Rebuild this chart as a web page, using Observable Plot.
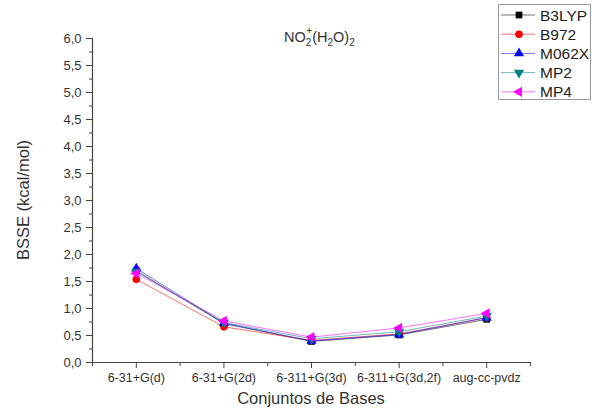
<!DOCTYPE html>
<html>
<head>
<meta charset="utf-8">
<script src="https://cdn.jsdelivr.net/npm/d3@7"></script>
<script src="https://cdn.jsdelivr.net/npm/@observablehq/plot@0.6"></script>
<style>
  html, body { margin: 0; padding: 0; background: #fff; }
  #chart svg { display: block; font-family: "Liberation Sans", Arial, sans-serif; }
</style>
</head>
<body>
<div id="chart"></div>
<script>
// Basis sets along the x axis
const basisSets = ["6-31+G(d)", "6-31+G(2d)", "6-311+G(3d)", "6-311+G(3d,2f)", "aug-cc-pvdz"];
// Methods (series)
const methods = ["B3LYP", "B972", "M062X", "MP2", "MP4"];
const colors = ["#000000", "#ff0000", "#0000ff", "#007f7f", "#ff00ff"];
// BSSE values (kcal/mol) per method, in basis-set order
const b3lyp = [1.70, 0.72, 0.39, 0.51, 0.80];
const b972  = [1.54, 0.66, 0.41, 0.53, 0.83];
const m062x = [1.74, 0.73, 0.40, 0.52, 0.83];
const mp2   = [1.68, 0.74, 0.44, 0.57, 0.86];
const mp4   = [1.65, 0.77, 0.47, 0.64, 0.91];
const yMajorTicks = [0, 0.5, 1, 1.5, 2, 2.5, 3, 3.5, 4, 4.5, 5, 5.5, 6];

const seriesValues = [b3lyp, b972, m062x, mp2, mp4];
const symbols = ["square", "circle", "triangle", "triangle", "triangle"];
const rotations = [0, 0, 0, 180, -90];

const rows = [];
methods.forEach((m, i) => {
  seriesValues[i].forEach((v, j) => rows.push({method: m, idx: j, value: v}));
});

const fmt = d => d3.format(".1f")(d).replace(".", ",");
const yMinor = d3.range(0, 6.001, 0.25);
const xMinor = d3.range(-0.5, basisSets.length, 1);

const marks = [
  Plot.axisY(yMinor, {tickSize: 3, tickFormat: () => "", stroke: "#444", label: null}),
  Plot.axisY(yMajorTicks, {tickSize: 6, tickPadding: 5, tickFormat: fmt, fontSize: 13, stroke: "#444", fill: "#333", label: null}),
  Plot.axisX(xMinor, {tickSize: 4, tickFormat: () => "", stroke: "#444", label: null}),
  Plot.axisX(d3.range(basisSets.length), {tickSize: 6, tickPadding: 5, tickFormat: i => basisSets[i], fontSize: 12.5, stroke: "#444", fill: "#333", label: null}),
  Plot.ruleX([-0.5], {stroke: "#444", strokeWidth: 1.2}),
  Plot.ruleY([0], {stroke: "#444", strokeWidth: 1.2})
];
methods.forEach((m, i) => {
  const data = rows.filter(d => d.method === m);
  marks.push(Plot.line(data, {x: "idx", y: "value", stroke: colors[i], strokeWidth: 0.8, strokeOpacity: 0.7}));
});
methods.forEach((m, i) => {
  const data = rows.filter(d => d.method === m);
  marks.push(Plot.dot(data, {x: "idx", y: "value", fill: colors[i], stroke: "none", symbol: symbols[i], rotate: rotations[i], r: 3.8}));
});

const chart = Plot.plot({
  width: 592,
  height: 410,
  marginLeft: 92,
  marginRight: 62,
  marginTop: 38,
  marginBottom: 48,
  x: {type: "linear", domain: [-0.5, basisSets.length - 0.5], axis: null, label: null},
  y: {domain: [0, 6], axis: null, label: null},
  style: {fontFamily: "Liberation Sans, Arial, sans-serif", background: "#fff"},
  marks
});

const svg = d3.select(chart);

// Axis titles
svg.append("text")
  .attr("transform", "translate(23,200) rotate(-90)")
  .attr("text-anchor", "middle").attr("dominant-baseline", "central")
  .attr("font-size", 16.5).attr("fill", "#333")
  .text("BSSE (kcal/mol)");
svg.append("text")
  .attr("x", 311).attr("y", 398)
  .attr("text-anchor", "middle").attr("dominant-baseline", "central")
  .attr("font-size", 16.5).attr("fill", "#333")
  .text("Conjuntos de Bases");

// Title: NO2+(H2O)2 with sub/superscripts
const title = svg.append("text")
  .attr("x", 284).attr("y", 42).attr("text-anchor", "start")
  .attr("font-size", 14.5).attr("fill", "#333");
title.append("tspan").text("NO");
title.append("tspan").attr("font-size", 10).attr("dy", 4).text("2");
title.append("tspan").attr("font-size", 10).attr("dx", -5).attr("dy", -12).text("+");
title.append("tspan").attr("dy", 8).text("(H");
title.append("tspan").attr("font-size", 10).attr("dy", 4).text("2");
title.append("tspan").attr("dy", -4).text("O)");
title.append("tspan").attr("font-size", 10).attr("dy", 4).text("2");

// Legend box
const lg = svg.append("g").attr("transform", "translate(498,4)");
lg.append("rect").attr("x", 0.5).attr("y", 0.5).attr("width", 92).attr("height", 95)
  .attr("fill", "#fff").attr("stroke", "#999").attr("stroke-width", 1);
const symType = {square: d3.symbolSquare, circle: d3.symbolCircle, triangle: d3.symbolTriangle};
methods.forEach((m, i) => {
  const yy = 11 + i * 19.2;
  lg.append("line").attr("x1", 3).attr("x2", 37).attr("y1", yy).attr("y2", yy)
    .attr("stroke", colors[i]).attr("stroke-width", 0.8).attr("stroke-opacity", 0.7);
  lg.append("path")
    .attr("d", d3.symbol(symType[symbols[i]], Math.PI * 3.8 * 3.8)())
    .attr("transform", `translate(21,${yy}) rotate(${rotations[i]})`)
    .attr("fill", colors[i]);
  lg.append("text").attr("x", 42).attr("y", yy).attr("text-anchor", "start")
    .attr("dominant-baseline", "central")
    .attr("font-size", 15.5).attr("fill", "#222").text(m);
});

document.getElementById("chart").appendChild(chart);
</script>
</body>
</html>
